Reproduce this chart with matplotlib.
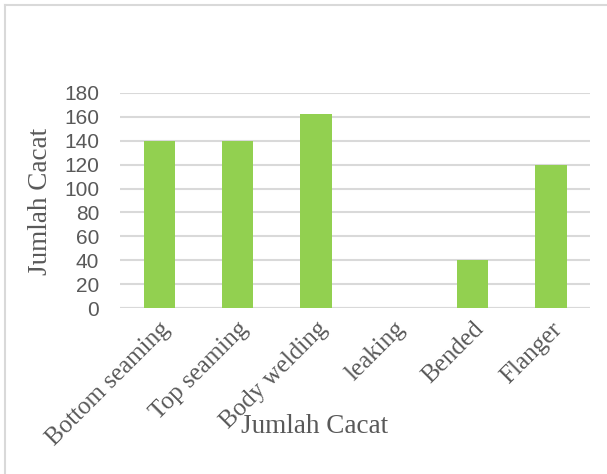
import numpy as np
import matplotlib.pyplot as plt
from matplotlib.lines import Line2D

categories = ['Bottom seaming', 'Top seaming', 'Body welding', 'leaking', 'Bended', 'Flanger']
jumlah = [140, 140, 162, 0, 40, 120]
yticks = [0, 20, 40, 60, 80, 100, 120, 140, 160, 180]

fig = plt.figure(figsize=(6.07, 4.74), dpi=100)
ax = fig.add_axes([0.1977, 0.350, 0.7743, 0.454])

x = np.arange(len(categories))
ax.bar(x, jumlah, width=0.4, color='#92D050', zorder=3)

ax.set_xlim(-0.5, len(categories) - 0.5)
ax.set_ylim(0, 180)
ax.set_yticks(yticks)
ax.set_yticklabels([str(v) for v in yticks], family='Liberation Sans',
                   fontsize=15, color='#595959')
ax.yaxis.grid(True, color='#d9d9d9', linewidth=1.5, zorder=0)
ax.tick_params(axis='y', length=0, pad=15)
ax.tick_params(axis='x', length=0, pad=7)
for s in ax.spines.values():
    s.set_visible(False)
ax.axhline(0, color='#d9d9d9', linewidth=1.5, zorder=2)

ax.set_xticks(x)
ax.set_xticklabels(categories, rotation=45, ha='right', rotation_mode='anchor',
                   family='Liberation Serif', fontsize=18, color='#595959')

ax.set_ylabel('Jumlah Cacat', family='Liberation Serif', fontsize=19.5, color='#595959')
ax.yaxis.set_label_coords(-0.143, 0.495)
ax.set_xlabel('Jumlah Cacat', family='Liberation Serif', fontsize=19.5, color='#595959',
              va='center')
ax.xaxis.set_label_coords(0.415, -0.548)

# light frame (top and left only, like the source)
fig.add_artist(Line2D([5 / 607, 1], [1 - 5 / 474, 1 - 5 / 474], color='#d9d9d9', linewidth=1.5))
fig.add_artist(Line2D([5 / 607, 5 / 607], [0, 1 - 5 / 474], color='#d9d9d9', linewidth=1.5))

fig.savefig('out.png', dpi=100)
